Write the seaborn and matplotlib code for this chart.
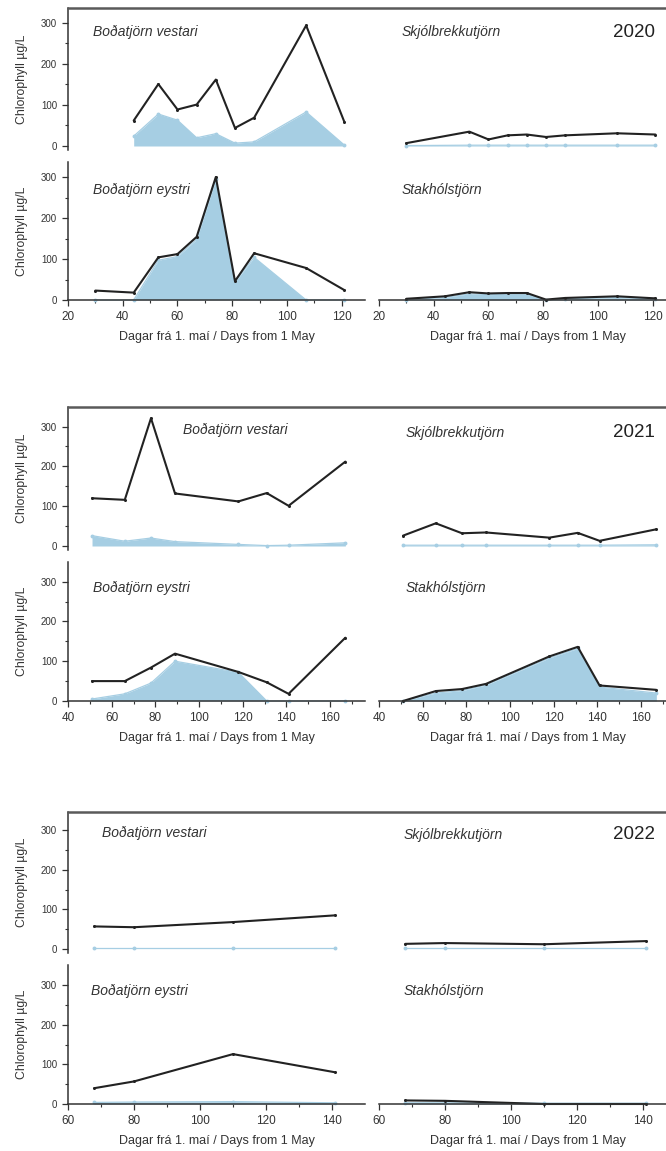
import numpy as np
import pandas as pd
import seaborn as sns
import matplotlib.pyplot as plt
from matplotlib.lines import Line2D
from matplotlib.ticker import FixedLocator

nan = np.nan

# sampling days (days from 1 May)
days_2020 = [30, 44, 53, 60, 67, 74, 81, 88, 107, 121]
days_2021 = [51, 66, 78, 89, 118, 131, 141, 167]
days_2022 = [68, 80, 110, 141]

lakes = ["Boðatjörn vestari", "Skjólbrekkutjörn", "Boðatjörn eystri", "Stakhólstjörn"]

# black line = total chlorophyll, blue = shaded part
vestari_total_2020 = [nan, 62, 151, 89, 101, 162, 44, 69, 294, 58]
vestari_blue_2020 = [nan, 24, 78, 63, 20, 30, 7, 10, 83, 2]
skjol_total_2020 = [7, nan, 35, 16, 26, 28, 22, 26, 31, 28]
skjol_blue_2020 = [1, nan, 2, 2, 2, 2, 2, 2, 2, 2]
eystri_total_2020 = [23, 18, 104, 112, 154, 300, 46, 114, 78, 24]
eystri_blue_2020 = [0, 0, 97, 106, 148, 294, 44, 104, 0, 0]
stakh_total_2020 = [3, 9, 19, 16, 17, 17, 1, 5, 9, 4]
stakh_blue_2020 = [1, 6, 15, 13, 14, 14, 0, 3, 6, 2]

vestari_total_2021 = [120, 116, 321, 132, 112, 133, 101, 212]
vestari_blue_2021 = [26, 12, 20, 11, 4, 1, 2, 8]
skjol_total_2021 = [26, 57, 32, 34, 21, 33, 13, 42]
skjol_blue_2021 = [2, 2, 2, 2, 2, 2, 2, 3]
eystri_total_2021 = [50, 50, 84, 119, 73, 47, 18, 159]
eystri_blue_2021 = [5, 18, 45, 100, 72, 0, 0, 0]
stakh_total_2021 = [0, 25, 30, 43, 112, 136, 39, 28]
stakh_blue_2021 = [0, 20, 26, 40, 108, 132, 35, 20]

vestari_total_2022 = [57, 55, 68, 85]
vestari_blue_2022 = [3, 3, 3, 3]
skjol_total_2022 = [13, 15, 12, 20]
skjol_blue_2022 = [2, 2, 2, 2]
eystri_total_2022 = [40, 57, 126, 80]
eystri_blue_2022 = [4, 5, 6, 3]
stakh_total_2022 = [9, 8, 0, 0]
stakh_blue_2022 = [3, 3, 2, 2]

years = [2020, 2021, 2022]
days = {2020: days_2020, 2021: days_2021, 2022: days_2022}
totals = {
    2020: [vestari_total_2020, skjol_total_2020, eystri_total_2020, stakh_total_2020],
    2021: [vestari_total_2021, skjol_total_2021, eystri_total_2021, stakh_total_2021],
    2022: [vestari_total_2022, skjol_total_2022, eystri_total_2022, stakh_total_2022],
}
blues = {
    2020: [vestari_blue_2020, skjol_blue_2020, eystri_blue_2020, stakh_blue_2020],
    2021: [vestari_blue_2021, skjol_blue_2021, eystri_blue_2021, stakh_blue_2021],
    2022: [vestari_blue_2022, skjol_blue_2022, eystri_blue_2022, stakh_blue_2022],
}

BLUE = "#a6cee3"
BLACK = "#222222"
GREY = "#333333"

sns.set_theme(style="ticks")
plt.rcParams["font.family"] = ["Liberation Sans", "DejaVu Sans"]

W, H = 666, 1151
fig = plt.figure(figsize=(W / 100, H / 100), dpi=100)


def px_axes(x0, y0, x1, y1):
    return fig.add_axes([x0 / W, 1 - y1 / H, (x1 - x0) / W, (y1 - y0) / H])


# pixel layout of each year block
layout = {
    2020: dict(top=8, zero1=146, zero2=300, ppu=0.41, xlim=(20, 128.5), xstart=20,
               title_x=[0.084, 0.077, 0.084, 0.077], title_y=[0.83, 0.83, 0.80, 0.80]),
    2021: dict(top=407, zero1=546, zero2=701, ppu=0.398, xlim=(40, 176), xstart=40,
               title_x=[0.387, 0.09, 0.084, 0.09], title_y=[0.84, 0.82, 0.815, 0.815]),
    2022: dict(top=812, zero1=949, zero2=1104, ppu=0.396, xlim=(60, 150), xstart=60,
               title_x=[0.114, 0.083, 0.078, 0.083], title_y=[0.85, 0.84, 0.81, 0.81]),
}
cols = [(68, 365), (379, 676)]

for year in years:
    L = layout[year]
    rows = [(L["top"], L["zero1"] + 4), (L["zero1"] + 16, L["zero2"])]
    x = np.array(days[year], dtype=float)

    # frame line across the top of the block
    fig.add_artist(Line2D([68 / W, 1], [1 - L["top"] / H] * 2, color="#5a5a5a", lw=1.8))

    for i, lake in enumerate(lakes):
        r, c = divmod(i, 2)
        y0, y1 = rows[r]
        ax = px_axes(cols[c][0], y0, cols[c][1], y1)
        ax.patch.set_alpha(0)

        tot = np.array(totals[year][i], dtype=float)
        blu = np.array(blues[year][i], dtype=float)
        mb = ~np.isnan(blu)
        mt = ~np.isnan(tot)

        ax.fill_between(x[mb], 0, blu[mb], color=BLUE, lw=0)
        sns.lineplot(x=x[mb], y=blu[mb], ax=ax, color=BLUE, lw=0.9, marker="o",
                     markersize=2.8, markeredgewidth=0, estimator=None, sort=False)
        sns.lineplot(x=x[mt], y=tot[mt], ax=ax, color=BLACK, lw=1.5, marker="o",
                     markersize=2.2, markeredgewidth=0, estimator=None, sort=False)
        for ln in ax.lines:
            ln.set_clip_on(False)

        ax.set_xlim(*L["xlim"])
        if r == 0:
            ax.set_ylim(-4 / L["ppu"], (L["zero1"] - L["top"]) / L["ppu"])
        else:
            ax.set_ylim(0, (y1 - y0) / L["ppu"])

        ax.set_xlabel("")
        ax.set_ylabel("")
        sns.despine(ax=ax, top=True, right=True, left=(c == 1), bottom=(r == 0))

        ax.tick_params(which="major", length=4.3, width=0.9, color=GREY, pad=3.5)
        ax.tick_params(which="minor", length=2.5, width=0.8, color=GREY)
        ax.tick_params(axis="x", labelsize=8.5, labelcolor=GREY)
        ax.tick_params(axis="y", labelsize=7, labelcolor=GREY)
        if c == 0:
            ax.yaxis.set_major_locator(FixedLocator([0, 100, 200, 300]))
            ax.yaxis.set_minor_locator(FixedLocator([50, 150, 250]))
            ax.spines["left"].set_linewidth(1.1)
            ax.spines["left"].set_color(GREY)
            ax.set_ylabel("Chlorophyll µg/L", fontsize=8.8, color=GREY)
            ax.yaxis.set_label_coords(-0.135, 0.5)
        else:
            ax.set_yticks([])
        if r == 1:
            ax.xaxis.set_major_locator(FixedLocator(np.arange(L["xstart"], L["xlim"][1], 20)))
            ax.xaxis.set_minor_locator(FixedLocator(np.arange(L["xstart"] + 10, L["xlim"][1], 20)))
            ax.spines["bottom"].set_linewidth(1.1)
            ax.spines["bottom"].set_color(GREY)
            ax.set_xlabel("Dagar frá 1. maí / Days from 1 May", fontsize=9, color=GREY)
            ax.xaxis.set_label_coords(0.5, -31 / (y1 - y0))
            ax.xaxis.label.set_va("top")
        else:
            ax.set_xticks([])

        ax.text(L["title_x"][i], L["title_y"][i], lake, transform=ax.transAxes,
                ha="left", va="center", fontsize=10, style="italic", color=GREY)
        if i == 1:
            ax.text(0.93, L["title_y"][i], str(year), transform=ax.transAxes,
                    ha="right", va="center", fontsize=13.5, color="#222222")

fig.savefig("out.png", dpi=100)
